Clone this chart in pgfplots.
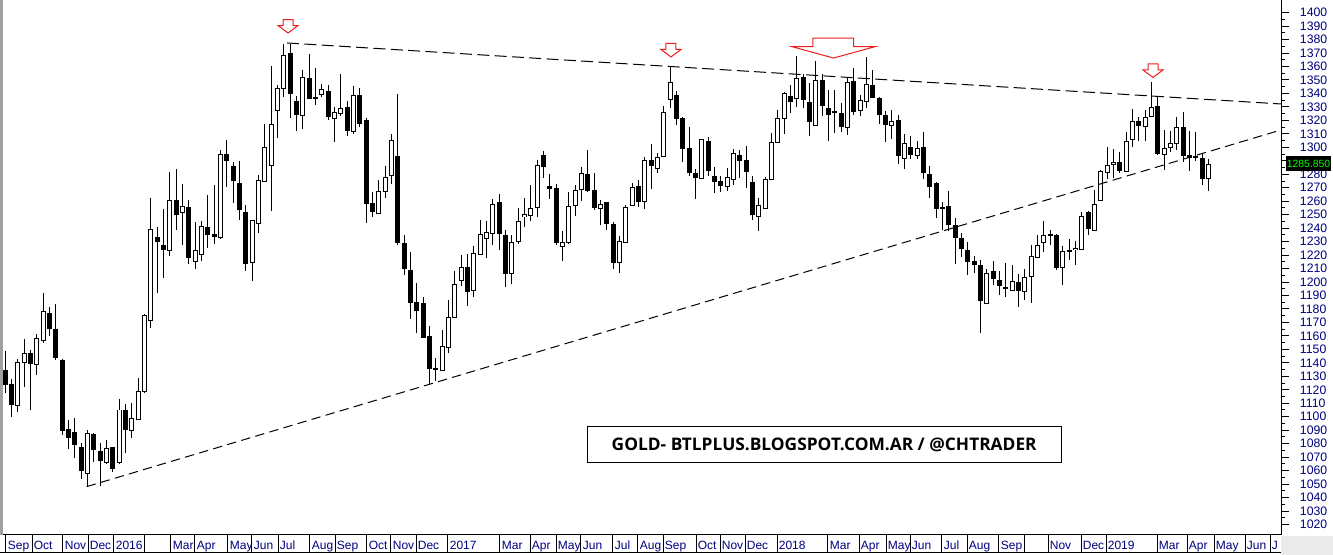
\documentclass[border=0pt]{standalone}
\usepackage{pgfplots}
\pgfplotsset{compat=1.18}
\usepackage{pgfplotstable}
\usepackage{fontspec}
\setmainfont{Liberation Sans}
\newfontfamily\titlefont{Open Sans}

\definecolor{lblue}{RGB}{0,0,128}
\definecolor{arrred}{RGB}{235,30,30}
\definecolor{edgegray}{RGB}{160,160,160}
\definecolor{pricegreen}{RGB}{0,255,0}

% weekly gold candles, Sep 2015 - Apr 2019: week index, open, high, low, close
\pgfplotstableread{
i o h l c
0 1134.2 1148.8 1117.9 1124.1
1 1124.1 1128.0 1100.0 1109.0
2 1108.2 1142.7 1103.8 1140.4
3 1140.4 1157.5 1122.3 1147.1
4 1146.6 1149.6 1105.2 1139.4
5 1138.9 1161.2 1131.2 1158.2
6 1156.8 1191.7 1154.5 1178.3
7 1176.8 1181.3 1160.2 1165.7
8 1164.9 1183.7 1142.1 1143.8
9 1141.9 1143.1 1086.2 1089.6
10 1090.7 1097.6 1075.8 1084.5
11 1088.5 1099.1 1069.2 1079.3
12 1077.3 1080.3 1053.6 1060.0
13 1058.0 1090.2 1048.1 1087.7
14 1086.5 1087.7 1066.6 1075.5
15 1074.4 1080.3 1048.6 1067.4
16 1065.9 1082.7 1064.9 1076.6
17 1076.8 1077.8 1059.2 1061.4
18 1065.9 1113.0 1064.9 1105.0
19 1104.8 1109.5 1072.9 1090.7
20 1089.9 1110.0 1084.0 1098.9
21 1098.1 1128.5 1098.1 1118.9
22 1118.9 1176.3 1117.4 1174.8
23 1171.3 1262.2 1165.7 1239.2
24 1233.4 1240.7 1192.1 1230.0
25 1227.5 1254.0 1203.2 1224.0
26 1223.6 1281.5 1219.6 1260.7
27 1260.7 1283.7 1238.9 1250.0
28 1251.8 1272.6 1227.7 1256.2
29 1255.5 1260.7 1213.6 1218.4
30 1215.4 1244.4 1209.9 1223.6
31 1220.6 1245.1 1215.9 1241.4
32 1240.7 1264.4 1225.5 1235.5
33 1235.5 1271.8 1228.5 1233.7
34 1233.2 1297.8 1231.7 1294.8
35 1294.8 1305.2 1270.8 1290.4
36 1285.9 1288.9 1258.9 1275.2
37 1273.3 1289.7 1245.8 1254.0
38 1251.8 1257.0 1208.4 1213.9
39 1214.7 1245.8 1201.0 1245.8
40 1243.6 1279.3 1236.6 1275.5
41 1274.8 1317.3 1274.8 1300.0
42 1286.4 1360.4 1253.0 1317.1
43 1327.5 1346.3 1307.2 1343.8
44 1343.8 1376.7 1337.6 1368.3
45 1369.8 1376.7 1322.0 1339.8
46 1334.4 1337.9 1312.4 1324.2
47 1323.5 1357.2 1313.9 1352.0
48 1351.3 1369.1 1335.9 1336.6
49 1337.2 1358.7 1331.7 1336.1
50 1339.4 1346.8 1337.6 1343.1
51 1341.8 1346.1 1320.3 1322.8
52 1321.6 1329.7 1304.2 1326.0
53 1325.0 1354.5 1323.5 1329.0
54 1329.7 1334.4 1308.7 1312.4
55 1311.6 1345.3 1310.1 1338.6
56 1338.6 1343.8 1315.3 1317.6
57 1319.6 1321.6 1243.6 1258.2
58 1258.5 1267.1 1248.5 1252.2
59 1250.7 1275.8 1250.7 1267.4
60 1267.1 1285.9 1262.6 1277.8
61 1279.3 1309.9 1273.0 1305.2
62 1293.4 1339.6 1227.5 1229.7
63 1228.8 1234.7 1205.5 1209.9
64 1208.7 1222.3 1172.8 1185.0
65 1184.5 1199.1 1162.0 1179.0
66 1184.2 1188.9 1158.2 1159.2
67 1159.7 1167.4 1124.3 1135.7
68 1135.7 1143.6 1126.8 1134.9
69 1134.5 1164.4 1134.5 1152.3
70 1151.6 1186.7 1147.6 1173.8
71 1173.8 1208.2 1173.8 1198.3
72 1201.3 1220.1 1197.3 1211.0
73 1211.0 1220.8 1182.4 1192.8
74 1193.6 1226.8 1189.1 1221.4
75 1220.6 1246.1 1220.6 1235.5
76 1232.5 1245.3 1218.1 1236.9
77 1235.9 1261.7 1227.5 1257.7
78 1258.7 1265.6 1224.0 1235.9
79 1234.2 1238.6 1196.6 1206.2
80 1206.2 1234.7 1198.8 1229.5
81 1230.0 1254.8 1228.5 1245.1
82 1248.5 1262.2 1241.1 1250.3
83 1249.6 1272.1 1245.6 1254.8
84 1255.5 1290.6 1248.5 1286.7
85 1294.1 1297.1 1277.5 1285.6
86 1271.1 1280.0 1261.9 1269.3
87 1269.6 1272.6 1227.3 1229.2
88 1226.5 1237.9 1215.9 1229.5
89 1229.2 1266.9 1228.5 1256.2
90 1257.0 1271.8 1249.3 1268.1
91 1268.9 1285.6 1260.4 1280.7
92 1280.2 1297.8 1266.6 1267.8
93 1268.1 1281.0 1253.3 1255.2
94 1254.5 1260.7 1242.6 1257.7
95 1259.2 1259.7 1238.4 1243.6
96 1242.9 1244.6 1209.5 1214.7
97 1214.7 1234.0 1206.5 1230.3
98 1229.5 1257.2 1229.5 1255.5
99 1256.7 1273.3 1256.7 1270.3
100 1271.1 1275.8 1255.9 1260.0
101 1259.7 1293.1 1254.5 1290.4
102 1290.6 1302.5 1269.3 1286.4
103 1284.5 1295.8 1280.7 1292.6
104 1293.4 1330.7 1293.4 1326.0
105 1335.7 1360.4 1329.4 1348.3
106 1338.6 1341.6 1316.4 1321.3
107 1321.6 1322.5 1289.4 1299.0
108 1298.8 1314.9 1279.0 1281.5
109 1280.7 1283.9 1261.9 1277.5
110 1277.0 1306.5 1276.5 1306.0
111 1304.5 1307.7 1278.5 1282.7
112 1278.7 1285.6 1265.9 1274.5
113 1275.0 1278.5 1267.1 1271.5
114 1271.1 1284.5 1267.8 1277.8
115 1276.3 1299.0 1272.3 1295.6
116 1294.1 1297.8 1277.0 1290.1
117 1290.4 1300.8 1269.6 1282.2
118 1274.1 1278.7 1245.8 1250.3
119 1248.5 1262.4 1238.1 1257.0
120 1254.8 1277.8 1254.8 1276.3
121 1276.3 1310.4 1275.5 1303.8
122 1303.8 1328.0 1303.8 1321.6
123 1321.6 1340.9 1310.1 1340.1
124 1338.1 1346.1 1325.7 1333.9
125 1336.4 1367.8 1330.2 1351.3
126 1351.5 1354.7 1329.4 1335.4
127 1333.5 1348.0 1308.7 1319.0
128 1316.4 1363.9 1316.4 1349.8
129 1349.3 1354.2 1323.1 1330.9
130 1329.0 1342.4 1304.9 1324.5
131 1326.3 1342.4 1310.4 1325.8
132 1325.3 1332.7 1311.4 1315.3
133 1314.6 1352.0 1309.2 1348.3
134 1349.0 1358.7 1324.2 1326.8
135 1327.5 1338.6 1323.5 1334.9
136 1334.2 1366.9 1329.0 1346.8
137 1346.1 1357.2 1336.4 1337.2
138 1336.4 1337.2 1317.1 1324.2
139 1323.8 1326.8 1303.8 1316.8
140 1316.4 1327.7 1306.2 1319.3
141 1320.1 1324.0 1287.4 1293.8
142 1291.9 1309.7 1283.7 1303.0
143 1300.0 1308.2 1291.1 1294.8
144 1294.1 1304.5 1291.1 1299.3
145 1300.0 1311.2 1276.7 1281.5
146 1280.0 1285.9 1262.6 1271.1
147 1273.3 1274.1 1247.3 1254.8
148 1255.5 1259.2 1238.9 1254.8
149 1256.2 1267.4 1238.1 1242.9
150 1242.1 1247.3 1213.4 1232.9
151 1232.5 1236.2 1218.8 1224.8
152 1223.6 1229.5 1205.5 1215.1
153 1215.1 1219.1 1206.9 1213.2
154 1212.4 1216.2 1162.0 1186.5
155 1184.2 1209.5 1184.2 1206.5
156 1208.0 1215.4 1198.0 1202.5
157 1201.3 1208.0 1190.6 1197.6
158 1196.1 1213.9 1189.1 1195.4
159 1193.9 1212.4 1193.9 1200.6
160 1199.8 1205.8 1181.7 1193.6
161 1193.1 1209.5 1186.5 1203.5
162 1204.3 1227.3 1184.7 1219.1
163 1218.4 1235.2 1218.4 1227.3
164 1229.2 1245.1 1222.1 1234.7
165 1235.5 1238.4 1227.3 1234.7
166 1234.7 1235.5 1208.7 1211.0
167 1211.0 1226.5 1197.6 1222.8
168 1223.6 1231.7 1216.2 1222.5
169 1224.3 1230.3 1212.4 1225.1
170 1224.3 1251.8 1224.3 1248.8
171 1251.8 1252.5 1234.7 1239.9
172 1238.4 1268.3 1238.4 1257.7
173 1260.2 1283.0 1260.2 1281.9
174 1281.5 1300.0 1276.7 1286.7
175 1287.4 1298.6 1277.5 1288.9
176 1288.9 1296.8 1281.0 1282.7
177 1282.2 1311.2 1282.2 1304.5
178 1305.5 1328.3 1300.5 1319.3
179 1319.3 1322.8 1304.9 1316.4
180 1315.6 1327.5 1304.5 1322.5
181 1323.1 1348.3 1323.1 1329.7
182 1330.5 1337.2 1294.5 1295.3
183 1294.8 1312.7 1283.0 1299.3
184 1300.0 1312.4 1296.3 1303.0
185 1302.7 1322.3 1298.3 1314.9
186 1315.1 1326.0 1289.4 1293.8
187 1293.8 1311.9 1282.7 1292.8
188 1292.8 1311.6 1290.0 1293.5
189 1291.9 1295.1 1272.3 1277.0
190 1277.0 1291.1 1267.8 1287.4
}\gold

\tikzset{downarrow/.style={draw=arrred, line width=0.75pt, fill=white}}

% month cell in the date strip: separator line plus name
\newcommand\monthcell[2]{%
  \draw[black, line width=0.75pt] (axis cs:#1,1012.2) -- ++(0pt,-13.5pt);
  \node[anchor=base west, inner sep=0pt, text=lblue, font=\fontsize{9}{10}\selectfont]
    at ([xshift=1.2pt,yshift=-10.9pt]axis cs:#1,1012.2) {#2};}

\begin{document}
\begin{tikzpicture}
\begin{axis}[
  scale only axis, width=960.75pt, height=401.25pt,
  xmin=-0.837, xmax=201.43, ymin=1012.2, ymax=1409.4,
  clip=false,
  axis x line*=bottom, axis y line*=right,
  axis line style={black, line width=0.75pt, -},
  xtick=\empty,
  ytick={1020,1030,...,1400},
  minor y tick num=1,
  tick align=outside,
  major tick length=6pt, minor tick length=3pt,
  tick style={black, line width=0.75pt},
  yticklabel style={anchor=west, inner sep=1pt, xshift=7pt, text=lblue, font=\fontsize{9.2}{10}\selectfont},
  /pgf/number format/1000 sep={},
  /pgf/number format/assume math mode=true,
  error bars/y dir=both, error bars/y explicit, error bars/error mark=none,
]
% wicks: high to low
\addplot[draw=none, mark=none, error bars/error bar style={black, line width=0.75pt}]
  table[x=i, y=c, y error plus expr=\thisrow{h}-\thisrow{c}, y error minus expr=\thisrow{c}-\thisrow{l}] {\gold};
% bodies: open to close, black outline
\addplot[draw=none, mark=none, error bars/error bar style={black, line width=3.75pt}]
  table[x=i, y expr=(\thisrow{o}+\thisrow{c})/2, y error expr=abs(\thisrow{o}-\thisrow{c})/2+0.37] {\gold};
% hollow inside of rising candles
\addplot[draw=none, mark=none, error bars/error bar style={white, line width=2.25pt}]
  table[x=i, y expr=(\thisrow{o}+\thisrow{c})/2, y error expr={\thisrow{c}>\thisrow{o} ? max((\thisrow{c}-\thisrow{o})/2-0.37,0) : 0}] {\gold};

% trend lines
\draw[black, line width=0.75pt, dash pattern=on 9pt off 4pt] (axis cs:44.48,1377.5) -- (axis cs:201.43,1332.2);
\draw[black, line width=0.75pt, dash pattern=on 7pt off 4pt] (axis cs:12.85,1048.1) -- (axis cs:201.43,1312.9);

% peak markers
\draw[downarrow] (axis cs:44.64,1384.9) -- ++(-7.5pt,5.6pt) -- ++(3.75pt,0pt) -- ++(0pt,4.5pt) -- ++(7.5pt,0pt) -- ++(0pt,-4.5pt) -- ++(3.75pt,0pt) -- cycle;
\draw[downarrow] (axis cs:105.11,1367.1) -- ++(-7.5pt,5.6pt) -- ++(3.75pt,0pt) -- ++(0pt,4.5pt) -- ++(7.5pt,0pt) -- ++(0pt,-4.5pt) -- ++(3.75pt,0pt) -- cycle;
\draw[downarrow] (axis cs:130.77,1366.3) -- ++(-31pt,8.5pt) -- ++(15.5pt,0pt) -- ++(0pt,6.5pt) -- ++(30.5pt,0pt) -- ++(0pt,-6.5pt) -- ++(16pt,0pt) -- cycle;
\draw[downarrow] (axis cs:181.22,1351.9) -- ++(-7.5pt,5.6pt) -- ++(3.75pt,0pt) -- ++(0pt,4.5pt) -- ++(7.5pt,0pt) -- ++(0pt,-4.5pt) -- ++(3.75pt,0pt) -- cycle;

% title box
\node[draw=black, line width=0.75pt, fill=white, minimum width=355.5pt, minimum height=26.7pt,
  font=\titlefont\bfseries\fontsize{13}{15}\selectfont] at (axis cs:129.3,1079.2) {GOLD- BTLPLUS.BLOGSPOT.COM.AR / @CHTRADER};

% date strip
\monthcell{0.11}{Sep}\monthcell{4.22}{Oct}\monthcell{9.11}{Nov}\monthcell{13.06}{Dec}
\monthcell{17.16}{2016}\monthcell{21.90}{}\monthcell{26.16}{Mar}\monthcell{29.95}{Apr}
\monthcell{35.16}{May}\monthcell{38.95}{Jun}\monthcell{43.06}{Jul}\monthcell{48.11}{Aug}
\monthcell{52.06}{Sep}\monthcell{57.11}{Oct}\monthcell{60.90}{Nov}\monthcell{64.85}{Dec}
\monthcell{69.90}{2017}\monthcell{78.11}{Mar}\monthcell{82.85}{Apr}\monthcell{86.96}{May}
\monthcell{90.90}{Jun}\monthcell{95.95}{Jul}\monthcell{99.90}{Aug}\monthcell{103.85}{Sep}
\monthcell{109.06}{Oct}\monthcell{112.85}{Nov}\monthcell{116.80}{Dec}\monthcell{121.85}{2018}
\monthcell{129.90}{Mar}\monthcell{134.80}{Apr}\monthcell{139.06}{May}\monthcell{142.85}{Jun}
\monthcell{147.90}{Jul}\monthcell{151.85}{Aug}\monthcell{156.90}{Sep}\monthcell{160.85}{}
\monthcell{164.64}{Nov}\monthcell{169.85}{Dec}\monthcell{173.80}{2019}\monthcell{181.85}{Mar}
\monthcell{186.59}{Apr}\monthcell{190.85}{May}\monthcell{195.75}{Jun}\monthcell{199.70}{J}
\end{axis}

% left frame edge, label strip bottom, last price
\draw[edgegray, line width=2.25pt] ([xshift=1.1pt]current axis.south west) -- ([xshift=1.1pt]current axis.north west);
\draw[black, line width=0.75pt] ([yshift=-13.5pt]current axis.south west) -- ([yshift=-13.5pt]current axis.south east);
\fill[black!8] ([yshift=-1pt]current axis.south east) rectangle ([xshift=39pt,yshift=-15pt]current axis.south east);
\node[fill=black, text=pricegreen, inner xsep=0.6pt, inner ysep=1pt, anchor=west, font=\fontsize{7.8}{9}\selectfont,
  minimum height=11pt] at ([xshift=3.6pt,yshift=-122.6pt]current axis.north east) {1285.850};

\pgfresetboundingbox
\path[use as bounding box] ([yshift=-15pt]current axis.south west) rectangle ([xshift=39pt]current axis.north east);
\end{tikzpicture}
\end{document}
